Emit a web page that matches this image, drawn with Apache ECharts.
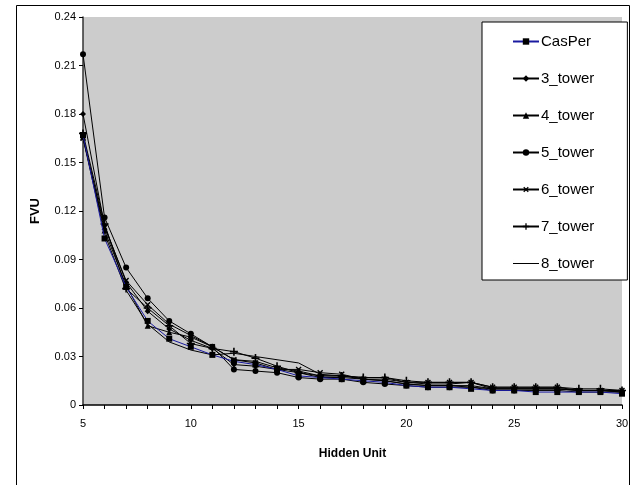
<!DOCTYPE html>
<html>
<head>
<meta charset="utf-8">
<script src="https://cdn.jsdelivr.net/npm/echarts@6/dist/echarts.min.js"></script>
<style>
  html, body { margin: 0; padding: 0; background: #fff; }
  #main { width: 634px; height: 485px; }
</style>
</head>
<body>
<div id="main"></div>
<script>
// x: hidden units
var hiddenUnits = [5, 6, 7, 8, 9, 10, 11, 12, 13, 14, 15, 16, 17, 18, 19, 20, 21, 22, 23, 24, 25, 26, 27, 28, 29, 30];

var casPer  = [0.167, 0.103, 0.073, 0.052, 0.041, 0.036, 0.031, 0.027, 0.025, 0.022, 0.018, 0.017, 0.016, 0.015, 0.014, 0.012, 0.011, 0.011, 0.010, 0.009, 0.009, 0.008, 0.008, 0.008, 0.008, 0.007];
var tower3  = [0.180, 0.111, 0.076, 0.058, 0.047, 0.040, 0.035, 0.025, 0.024, 0.022, 0.020, 0.017, 0.017, 0.016, 0.015, 0.013, 0.012, 0.012, 0.011, 0.010, 0.010, 0.010, 0.010, 0.009, 0.009, 0.008];
var tower4  = [0.166, 0.108, 0.074, 0.049, 0.045, 0.042, 0.036, 0.028, 0.027, 0.023, 0.021, 0.018, 0.018, 0.017, 0.017, 0.014, 0.013, 0.013, 0.014, 0.010, 0.010, 0.010, 0.010, 0.009, 0.009, 0.009];
var tower5  = [0.217, 0.116, 0.085, 0.066, 0.052, 0.044, 0.036, 0.022, 0.021, 0.020, 0.017, 0.016, 0.016, 0.014, 0.013, 0.012, 0.011, 0.011, 0.011, 0.009, 0.009, 0.009, 0.009, 0.008, 0.008, 0.008];
var tower6  = [0.165, 0.110, 0.077, 0.062, 0.050, 0.043, 0.036, 0.028, 0.026, 0.022, 0.022, 0.020, 0.019, 0.016, 0.016, 0.014, 0.014, 0.014, 0.014, 0.011, 0.011, 0.011, 0.011, 0.009, 0.009, 0.009];
var tower7  = [0.168, 0.112, 0.072, 0.060, 0.049, 0.038, 0.035, 0.033, 0.029, 0.024, 0.020, 0.018, 0.018, 0.017, 0.017, 0.015, 0.014, 0.014, 0.014, 0.011, 0.011, 0.011, 0.011, 0.010, 0.010, 0.009];
var tower8  = [0.165, 0.106, 0.071, 0.050, 0.039, 0.034, 0.031, 0.032, 0.030, 0.028, 0.026, 0.019, 0.018, 0.016, 0.015, 0.013, 0.012, 0.012, 0.012, 0.010, 0.010, 0.010, 0.010, 0.009, 0.009, 0.008];

var seriesNames = ['CasPer', '3_tower', '4_tower', '5_tower', '6_tower', '7_tower', '8_tower'];
var seriesData = [casPer, tower3, tower4, tower5, tower6, tower7, tower8];

var plusPath = 'path://M4,0H6V10H4ZM0,4H10V6H0Z';
var symbols = ['rect', 'diamond', 'triangle', 'circle', plusPath, plusPath, 'none'];
var symbolSizes = [6, 6, 6, 6, 7, 8, 0];
var symbolRotates = [0, 0, 0, 0, 45, 0, 0];

var FONT = 'Liberation Sans, Arial, sans-serif';

function pairs(arr) {
    return hiddenUnits.map(function (x, i) { return [x, arr[i]]; });
}

var chart = echarts.init(document.getElementById('main'));

var series = seriesNames.map(function (name, i) {
    return {
        name: name,
        type: 'line',
        data: pairs(seriesData[i]),
        symbol: symbols[i],
        symbolSize: symbolSizes[i],
        symbolRotate: symbolRotates[i],
        showSymbol: symbols[i] !== 'none',
        animation: false,
        lineStyle: { color: i === 0 ? '#1a1aa0' : '#000', width: 1 },
        itemStyle: { color: '#000', borderWidth: 0 },
        z: 10 - i
    };
});

// 8_tower has no marker: plain line icon in the legend
var legendData = seriesNames.map(function (name, i) {
    if (symbols[i] === 'none') {
        return { name: name, icon: 'path://M0,0H0.01V8H0ZM0,3.5H26V4.5H0Z' };
    }
    return { name: name };
});

var option = {
    backgroundColor: '#fff',
    animation: false,
    grid: {
        left: 83, top: 17, right: 12, bottom: 80,
        show: true,
        backgroundColor: '#cccccc',
        borderWidth: 0
    },
    legend: {
        orient: 'vertical',
        left: 482, top: 22,
        backgroundColor: '#fff',
        borderColor: '#000',
        borderWidth: 1,
        padding: [12, 33, 9, 30],
        itemWidth: 26,
        itemHeight: 8,
        itemGap: 22,
        textStyle: { fontFamily: FONT, fontSize: 15, color: '#000', padding: [0, 0, 0, -3] },
        data: legendData
    },
    xAxis: {
        type: 'value',
        min: 5, max: 30, interval: 1,
        name: 'Hidden Unit',
        nameLocation: 'middle',
        nameGap: 43,
        nameTextStyle: { fontFamily: FONT, fontSize: 12, fontWeight: 'bold', color: '#000' },
        axisLine: { lineStyle: { color: '#000', width: 1.5 } },
        axisTick: { show: true, length: 4, lineStyle: { color: '#000' } },
        axisLabel: {
            fontFamily: FONT, fontSize: 11, color: '#000', margin: 13,
            formatter: function (v) { return v % 5 === 0 ? String(v) : ''; }
        },
        splitLine: { show: false }
    },
    yAxis: {
        type: 'value',
        min: 0, max: 0.24, interval: 0.03,
        name: 'FVU',
        nameLocation: 'middle',
        nameGap: 41,
        nameTextStyle: { fontFamily: FONT, fontSize: 13, fontWeight: 'bold', color: '#000' },
        axisLine: { show: true, lineStyle: { color: '#333', width: 1.5 } },
        axisTick: { show: true, length: 4, lineStyle: { color: '#000' } },
        axisLabel: {
            fontFamily: FONT, fontSize: 11, color: '#000', margin: 7,
            formatter: function (v) { return v === 0 ? '0' : String(+v.toFixed(2)); }
        },
        splitLine: { show: false }
    },
    graphic: [{
        type: 'rect',
        left: 14, top: 3,
        shape: { width: 613, height: 490 },
        style: { fill: 'none', stroke: '#000', lineWidth: 1 },
        z: 100,
        silent: true
    }],
    series: series
};

chart.setOption(option);
</script>
</body>
</html>
